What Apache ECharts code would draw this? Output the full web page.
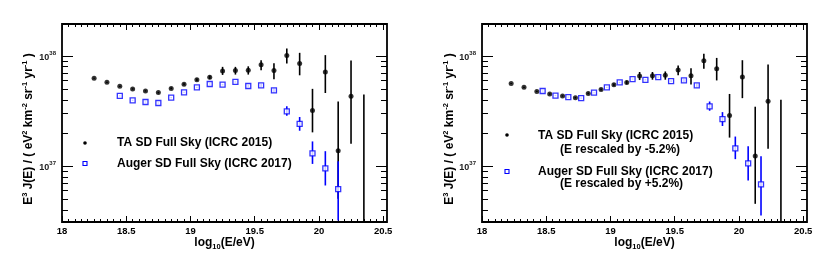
<!DOCTYPE html>
<html><head><meta charset="utf-8">
<script src="https://cdn.jsdelivr.net/npm/echarts@6/dist/echarts.min.js"></script>
<style>html,body{margin:0;padding:0;background:#fff}#c{width:830px;height:261px}</style>
</head><body><div id="c"></div>
<script>
// ---------- Data ----------
// Left panel: as published
const taX = [18.25,18.35,18.45,18.55,18.65,18.75,18.85,18.95,19.05,19.15,19.25,19.35,19.45,19.55,19.65,19.75,19.85,19.95,20.05,20.15,20.25,20.35];
const taY = [6.28e37,5.78e37,5.31e37,5.03e37,4.83e37,4.66e37,5.09e37,5.54e37,6.11e37,6.41e37,7.33e37,7.38e37,7.43e37,8.32e37,7.38e37,1.01e38,8.55e37,3.21e37,7.18e37,1.38e37,4.32e37,2.0e36];
const taHi = [6.35e37,5.85e37,5.38e37,5.10e37,4.90e37,4.74e37,5.18e37,5.66e37,6.27e37,6.65e37,7.98e37,7.98e37,8.07e37,9.16e37,8.61e37,1.17e38,1.07e38,5.04e37,1.02e38,3.86e37,9.10e37,4.47e37];
const taLo = [6.21e37,5.71e37,5.24e37,4.96e37,4.76e37,4.58e37,5.00e37,5.42e37,5.95e37,6.17e37,6.74e37,6.79e37,6.79e37,7.43e37,6.15e37,8.55e37,6.69e37,2.03e37,4.62e37,5.07e36,1.60e37,1.0e36];

const augX = [18.45,18.55,18.65,18.75,18.85,18.95,19.05,19.15,19.25,19.35,19.45,19.55,19.65,19.75,19.85,19.95,20.05,20.15];
const augY = [4.35e37,3.96e37,3.83e37,3.75e37,4.20e37,4.69e37,5.20e37,5.58e37,5.50e37,5.82e37,5.35e37,5.43e37,4.89e37,3.15e37,2.42e37,1.31e37,9.55e36,6.2e36];
const augHi = [4.40e37,4.01e37,3.88e37,3.80e37,4.25e37,4.75e37,5.27e37,5.66e37,5.58e37,5.91e37,5.45e37,5.62e37,5.10e37,3.50e37,2.80e37,1.68e37,1.37e37,1.11e37];
const augLo = [4.30e37,3.91e37,3.78e37,3.70e37,4.15e37,4.63e37,5.13e37,5.50e37,5.42e37,5.73e37,5.25e37,5.24e37,4.68e37,2.88e37,2.10e37,1.05e37,6.69e36,3.22e36];

// Right panel: energy-rescaled
const taRsX = [18.227,18.327,18.427,18.527,18.627,18.727,18.827,18.927,19.027,19.127,19.227,19.327,19.427,19.527,19.627,19.727,19.827,19.927,20.027,20.127,20.227,20.327];
const taRsY = [5.65e37,5.20e37,4.77e37,4.52e37,4.34e37,4.19e37,4.58e37,4.98e37,5.49e37,5.76e37,6.59e37,6.63e37,6.68e37,7.48e37,6.63e37,9.08e37,7.69e37,2.89e37,6.45e37,1.24e37,3.88e37,1.8e36];
const taRsHi = [5.71e37,5.26e37,4.84e37,4.59e37,4.41e37,4.26e37,4.66e37,5.09e37,5.64e37,5.98e37,7.17e37,7.17e37,7.25e37,8.23e37,7.74e37,1.05e38,9.62e37,4.53e37,9.17e37,3.47e37,8.37e37,4.02e37];
const taRsLo = [5.58e37,5.13e37,4.71e37,4.46e37,4.28e37,4.12e37,4.50e37,4.87e37,5.35e37,5.55e37,6.06e37,6.10e37,6.10e37,6.68e37,5.53e37,7.69e37,6.01e37,1.82e37,4.15e37,4.56e36,1.44e37,1.0e36];

const augRsX = [18.472,18.572,18.672,18.772,18.872,18.972,19.072,19.172,19.272,19.372,19.472,19.572,19.672,19.772,19.872,19.972,20.072,20.172];
const augRsY = [4.82e37,4.38e37,4.24e37,4.15e37,4.65e37,5.19e37,5.76e37,6.18e37,6.09e37,6.44e37,5.92e37,6.01e37,5.41e37,3.49e37,2.68e37,1.45e37,1.06e37,6.86e36];
const augRsHi = [4.87e37,4.44e37,4.30e37,4.21e37,4.70e37,5.26e37,5.83e37,6.27e37,6.18e37,6.54e37,6.03e37,6.22e37,5.65e37,3.87e37,3.10e37,1.86e37,1.52e37,1.23e37];
const augRsLo = [4.76e37,4.33e37,4.18e37,4.10e37,4.59e37,5.13e37,5.68e37,6.09e37,6.00e37,6.34e37,5.81e37,5.80e37,5.18e37,3.19e37,2.32e37,1.16e37,7.41e36,3.57e36];

// Tick labels
const xTickLabels = [18, 18.5, 19, 19.5, 20, 20.5];
const yDecades = [37, 38];
const legendLeft = ['TA SD Full Sky (ICRC 2015)', 'Auger SD Full Sky (ICRC 2017)'];
const legendRight = ['TA SD Full Sky (ICRC 2015)', '(E rescaled by -5.2%)', 'Auger SD Full Sky (ICRC 2017)', '(E rescaled by +5.2%)'];

// ---------- Chart ----------
const FONT = '"Liberation Sans", Arial, Helvetica, sans-serif';
const BLUE = '#0000ff';
const X_MIN = 18, X_MAX = 20.53;
const Y_MIN = 36.494, Y_MAX = 38.291;
const GRID_LEFTS = [62, 482];
const GRID_TOP = 24, GRID_W = 325, GRID_H = 198;

const xMinor = [];
for (let i = 0; i <= 50; i++) { if (i % 10 !== 0) xMinor.push(+(18 + i * 0.05).toFixed(2)); }
const yMinor = [];
[36, 37, 38].forEach(n => { for (let k = 2; k <= 9; k++) { const v = n + Math.log10(k); if (v > Y_MIN && v < Y_MAX) yMinor.push(v); } });

const grids = [], xAxes = [], yAxes = [], series = [];
const tickLine = { color: '#000', width: 1 };

GRID_LEFTS.forEach((left, gi) => {
  grids.push({ left: left, top: GRID_TOP, width: GRID_W, height: GRID_H, show: true, borderColor: '#000', borderWidth: 1.8, backgroundColor: 'transparent' });
  const xBase = { gridIndex: gi, type: 'value', min: X_MIN, max: X_MAX, axisLine: { show: false }, splitLine: { show: false } };
  xAxes.push(Object.assign({}, xBase, { position: 'bottom',
    axisTick: { inside: true, length: 6, customValues: xTickLabels, lineStyle: tickLine },
    axisLabel: { customValues: xTickLabels, formatter: v => String(v), fontSize: 9.5, fontWeight: 'bold', color: '#000', margin: 4, fontFamily: FONT } }));
  xAxes.push(Object.assign({}, xBase, { position: 'bottom', axisTick: { inside: true, length: 3, customValues: xMinor, lineStyle: tickLine }, axisLabel: { show: false } }));
  xAxes.push(Object.assign({}, xBase, { position: 'top', axisTick: { inside: true, length: 6, customValues: xTickLabels, lineStyle: tickLine }, axisLabel: { show: false } }));
  xAxes.push(Object.assign({}, xBase, { position: 'top', axisTick: { inside: true, length: 3, customValues: xMinor, lineStyle: tickLine }, axisLabel: { show: false } }));

  const yBase = { gridIndex: gi, type: 'value', min: Y_MIN, max: Y_MAX, axisLine: { show: false }, splitLine: { show: false } };
  yAxes.push(Object.assign({}, yBase, { position: 'left',
    axisTick: { inside: true, length: 11, customValues: yDecades, lineStyle: tickLine },
    axisLabel: { customValues: yDecades, margin: 6, color: '#222', fontFamily: FONT,
      formatter: v => '{b|10}{s|' + Math.round(v) + '}',
      rich: { b: { fontSize: 9, fontWeight: 'bold', lineHeight: 12, verticalAlign: 'bottom', fontFamily: FONT, color: '#222' },
              s: { fontSize: 6, fontWeight: 'bold', lineHeight: 7, verticalAlign: 'top', fontFamily: FONT, color: '#222' } } } }));
  yAxes.push(Object.assign({}, yBase, { position: 'left', axisTick: { inside: true, length: 6, customValues: yMinor, lineStyle: tickLine }, axisLabel: { show: false } }));
  yAxes.push(Object.assign({}, yBase, { position: 'right', axisTick: { inside: true, length: 11, customValues: yDecades, lineStyle: tickLine }, axisLabel: { show: false } }));
  yAxes.push(Object.assign({}, yBase, { position: 'right', axisTick: { inside: true, length: 6, customValues: yMinor, lineStyle: tickLine }, axisLabel: { show: false } }));
});

function errSeries(gi, xs, lo, hi, color) {
  return {
    type: 'custom', xAxisIndex: gi * 4, yAxisIndex: gi * 4, clip: true, silent: true,
    data: xs.map((x, i) => [x, Math.log10(lo[i]), Math.log10(hi[i])]),
    encode: { x: 0, y: [1, 2] },
    renderItem: (params, api) => {
      const p1 = api.coord([api.value(0), api.value(1)]);
      const p2 = api.coord([api.value(0), api.value(2)]);
      return { type: 'line', shape: { x1: p1[0], y1: p1[1], x2: p2[0], y2: p2[1] }, style: { stroke: color, lineWidth: 1.6 } };
    }
  };
}
function taPts(gi, xs, ys) {
  return { type: 'scatter', xAxisIndex: gi * 4, yAxisIndex: gi * 4, clip: true, silent: true,
    symbol: 'circle', symbolSize: 5, itemStyle: { color: '#000' },
    data: xs.map((x, i) => [x, Math.log10(ys[i])]) };
}
function augPts(gi, xs, ys) {
  return { type: 'scatter', xAxisIndex: gi * 4, yAxisIndex: gi * 4, clip: true, silent: true,
    symbol: 'rect', symbolSize: 5, itemStyle: { color: '#fff', borderColor: BLUE, borderWidth: 1.3 },
    data: xs.map((x, i) => [x, Math.log10(ys[i])]) };
}
series.push(errSeries(0, taX, taLo, taHi, '#000'), errSeries(0, augX, augLo, augHi, BLUE), taPts(0, taX, taY), augPts(0, augX, augY));
series.push(errSeries(1, taRsX, taRsLo, taRsHi, '#000'), errSeries(1, augRsX, augRsLo, augRsHi, BLUE), taPts(1, taRsX, taRsY), augPts(1, augRsX, augRsY));

// Titles and legends as graphic text
const titleRich = {
  n: { fontSize: 12, fontWeight: 'bold', fontFamily: FONT, color: '#000', lineHeight: 14, verticalAlign: 'bottom' },
  s: { fontSize: 7.5, fontWeight: 'bold', fontFamily: FONT, color: '#000', lineHeight: 9, verticalAlign: 'top' }
};
const xRich = {
  n: { fontSize: 12, fontWeight: 'bold', fontFamily: FONT, color: '#000', lineHeight: 14, verticalAlign: 'top' },
  d: { fontSize: 7.5, fontWeight: 'bold', fontFamily: FONT, color: '#000', lineHeight: 9, verticalAlign: 'bottom' }
};
const yTitle = '{n|E}{s|3}{n| J(E) / ( eV}{s|2}{n| km}{s|-2}{n| sr}{s|-1}{n| yr}{s|-1}{n| )}';
const xTitle = '{n|log}{d|10}{n|(E/eV)}';
const legFont = { fontSize: 12, fontWeight: 'bold', fontFamily: FONT, fill: '#000' };

const graphic = [];
GRID_LEFTS.forEach((left, gi) => {
  graphic.push({ type: 'text', x: 28 + (left - 62) + (gi ? 1 : 0), y: 129, rotation: Math.PI / 2,
    style: { text: yTitle, rich: titleRich, align: 'center', verticalAlign: 'middle' } });
  graphic.push({ type: 'text', x: left + GRID_W / 2, y: 237,
    style: { text: xTitle, rich: xRich, align: 'center', verticalAlign: 'top' } });
});
// left legend
graphic.push({ type: 'circle', shape: { cx: 85, cy: 143, r: 1.8 }, style: { fill: '#000' } });
graphic.push({ type: 'rect', shape: { x: 83, y: 161.5, width: 4, height: 4 }, style: { fill: '#fff', stroke: BLUE, lineWidth: 1.1 } });
graphic.push({ type: 'text', x: 117, y: 143, style: Object.assign({ text: legendLeft[0], verticalAlign: 'middle' }, legFont) });
graphic.push({ type: 'text', x: 117, y: 164, style: Object.assign({ text: legendLeft[1], verticalAlign: 'middle' }, legFont) });
// right legend
graphic.push({ type: 'circle', shape: { cx: 507, cy: 135, r: 1.8 }, style: { fill: '#000' } });
graphic.push({ type: 'rect', shape: { x: 505, y: 169.5, width: 4, height: 4 }, style: { fill: '#fff', stroke: BLUE, lineWidth: 1.1 } });
graphic.push({ type: 'text', x: 538, y: 136, style: Object.assign({ text: legendRight[0], verticalAlign: 'middle' }, legFont) });
graphic.push({ type: 'text', x: 560, y: 150, style: Object.assign({ text: legendRight[1], verticalAlign: 'middle' }, legFont) });
graphic.push({ type: 'text', x: 538, y: 171.5, style: Object.assign({ text: legendRight[2], verticalAlign: 'middle' }, legFont) });
graphic.push({ type: 'text', x: 560, y: 184, style: Object.assign({ text: legendRight[3], verticalAlign: 'middle' }, legFont) });

const chart = echarts.init(document.getElementById('c'), null, { renderer: 'canvas' });
chart.setOption({
  animation: false,
  backgroundColor: '#fff',
  grid: grids, xAxis: xAxes, yAxis: yAxes, series: series, graphic: graphic
});
</script></body></html>
